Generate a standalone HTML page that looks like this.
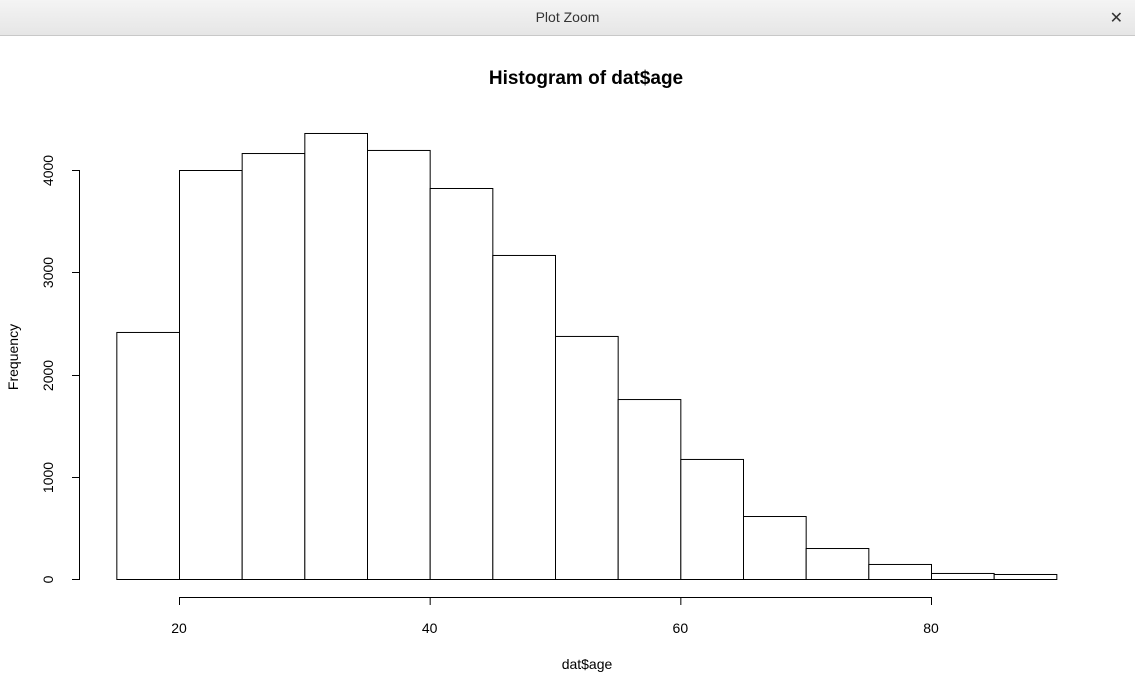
<!DOCTYPE html>
<html><head><meta charset="utf-8"><style>
body{margin:0;width:1135px;height:695px;overflow:hidden;background:#fff;font-family:"Liberation Sans",sans-serif}
#bar{position:absolute;left:0;top:0;width:1135px;height:36px;background:linear-gradient(#f4f4f4,#e6e6e6);border-bottom:1px solid #c8c8c8;box-sizing:border-box}
#bar span{position:absolute;left:0;right:0;top:9px;text-align:center;font-size:14px;color:#333}
#close{position:absolute;right:12px;top:8px;font-size:16px;color:#333}
svg{position:absolute;left:0;top:0}
</style></head><body>
<div id="bar"><span>Plot Zoom</span><div id="close">✕</div></div>
<svg id="chart" width="1135" height="695"></svg>
<script>
const binStarts=[15,20,25,30,35,40,45,50,55,60,65,70,75,80,85];
const counts=[2416,4000,4166,4362,4196,3824,3169,2377,1760,1174,616,303,147,59,49];
const xTicks=[20,40,60,80];
const yTicks=[0,1000,2000,3000,4000];
const binWidth=5;
const sx=v=>179+(v-20)*(931-179)/60;
const sy=v=>579-v*(579-170)/4000;
const svg=document.getElementById('chart');
const NS='http://www.w3.org/2000/svg';
function mk(t,a){const e=document.createElementNS(NS,t);for(const k in a)e.setAttribute(k,a[k]);svg.appendChild(e);return e;}
let t=mk('text',{x:586,y:84,'text-anchor':'middle','font-size':'19','font-weight':'bold'});t.textContent='Histogram of dat$age';


binStarts.forEach((b,i)=>{
  const r=mk('rect',{x:sx(b)+0.5,y:sy(counts[i])+0.5,width:sx(b+binWidth)-sx(b),height:sy(0)-sy(counts[i]),fill:'#fff',stroke:'#000','stroke-width':1});
  
  
});
let xa=mk('line',{x1:sx(xTicks[0]),x2:sx(xTicks[xTicks.length-1]),y1:597.5,y2:597.5,stroke:'#000'});


xTicks.forEach(v=>{
  mk('line',{x1:sx(v)+0.5,x2:sx(v)+0.5,y1:597,y2:605,stroke:'#000'});
  const l=mk('text',{x:sx(v),y:633,'text-anchor':'middle','font-size':'14'});l.textContent=v;
  
  
});
let ya=mk('line',{x1:79.5,x2:79.5,y1:sy(yTicks[0]),y2:sy(yTicks[yTicks.length-1]),stroke:'#000'});


yTicks.forEach(v=>{
  const y=Math.round(sy(v))+0.5;
  mk('line',{x1:72,x2:80,y1:y,y2:y,stroke:'#000'});
  const l=mk('text',{x:53,y:y,'text-anchor':'middle','font-size':'14',transform:`rotate(-90 53 ${y})`});l.textContent=v;
  
  
});
let xt=mk('text',{x:587,y:669,'text-anchor':'middle','font-size':'14'});xt.textContent='dat$age';


let yt=mk('text',{x:18,y:357,'text-anchor':'middle','font-size':'14',transform:'rotate(-90 18 357)'});yt.textContent='Frequency';


</script>
</body></html>
